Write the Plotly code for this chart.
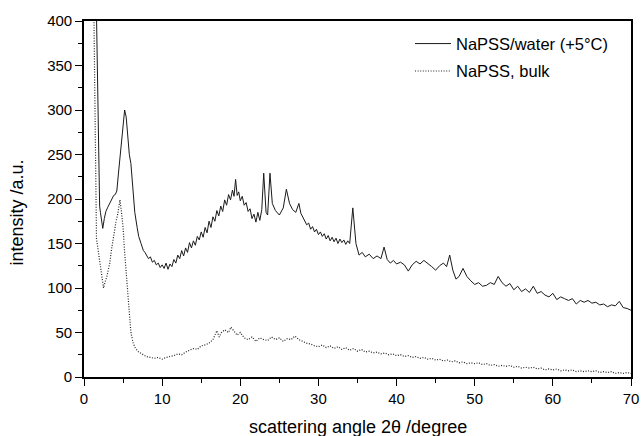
import plotly.graph_objects as go

# NaPSS/water (+5°C) — solid
water_x = [1.5, 1.6, 1.7, 1.8, 1.9, 2.0, 2.1, 2.2, 2.4, 2.6, 2.8, 3.0, 3.2, 3.4, 3.6, 3.8, 4.0, 4.2, 4.4, 4.6, 4.8,
           5.0, 5.2, 5.4, 5.6, 5.8, 6.0, 6.2, 6.5, 6.8, 7.0, 7.3, 7.6, 7.8,
           8.0, 8.25, 8.5, 8.75, 9.0, 9.25, 9.5, 9.75, 10.0, 10.25, 10.5, 10.75, 11.0, 11.25, 11.5, 11.75,
           12.0, 12.25, 12.5, 12.75, 13.0, 13.25, 13.5, 13.75, 14.0, 14.25, 14.5, 14.75, 15.0, 15.25, 15.5, 15.75,
           16.0, 16.25, 16.5, 16.75, 17.0, 17.25, 17.5, 17.75, 18.0, 18.25, 18.5, 18.75, 19.0, 19.2, 19.4, 19.6,
           19.8, 20.0, 20.25, 20.5, 20.75, 21.0, 21.25, 21.5, 21.75, 22.0, 22.25, 22.5, 22.75,
           23.0, 23.3, 23.5, 23.8, 24.1, 24.5, 25.0, 25.5, 25.9, 26.3, 26.7, 27.1, 27.5, 27.75,
           28.0, 28.25, 28.5, 28.75, 29.0, 29.25, 29.5, 29.75, 30.0, 30.25, 30.5, 30.75, 31.0, 31.25, 31.5, 31.75,
           32.0, 32.25, 32.5, 32.75, 33.0, 33.25, 33.5, 33.75, 34.0, 34.4, 34.8, 35.2, 35.6, 36.0, 36.5, 37.0, 37.5,
           38.0, 38.4, 38.8, 39.2, 39.6, 40.0, 40.5, 41.0, 41.5, 42.0,
           42.5, 43.0, 43.5, 44.0, 44.5, 45.0, 45.5, 46.0, 46.4, 46.8, 47.2, 47.6, 48.0, 48.5, 49.0, 49.5, 50.0,
           50.5, 51.0, 51.5, 52.0, 52.5, 53.0, 53.5, 54.0, 54.5, 55.0, 55.5, 56.0, 56.5, 57.0, 57.5, 58.0, 58.5,
           59.0, 59.5, 60.0, 60.5, 61.0, 61.5, 62.0, 62.5, 63.0, 63.5, 64.0, 64.5, 65.0, 65.5, 66.0, 66.5, 67.0,
           67.5, 68.0, 68.5, 69.0, 69.5, 70.0]
water_y = [460, 400, 330, 275, 225, 192, 185, 178, 167, 178, 186, 190, 194, 197, 200, 204, 205, 209, 228, 246, 262,
           283, 300, 292, 268, 250, 240, 215, 185, 168, 158, 150, 142, 140,
           137, 133, 135, 129, 131, 126, 128, 123, 126, 122, 128, 121, 127, 124, 132, 128,
           137, 133, 142, 136, 145, 140, 151, 145, 153, 148, 158, 154, 163, 157, 168, 162,
           175, 168, 180, 175, 187, 181, 192, 186, 199, 193, 205, 199, 210, 203, 222, 204,
           208, 198, 203, 193, 196, 186, 189, 178, 183, 174, 185, 176, 188,
           229, 185, 182, 229, 195, 187, 182, 190, 211, 195, 188, 185, 195, 184,
           180, 176, 171, 173, 166, 169, 163, 166, 160, 163, 158, 161, 155, 159, 153, 157,
           152, 156, 150, 155, 151, 154, 149, 153, 150, 190, 150, 137, 140, 135, 138, 133, 136,
           133, 146, 132, 128, 131, 127, 129, 126, 119, 126,
           130, 127, 131, 128, 124, 120, 125, 128, 124, 137, 120, 110, 113, 122, 113, 108, 104,
           106, 102, 103, 106, 104, 113, 106, 102, 105, 98, 102, 96, 99, 95, 102, 94, 96,
           92, 90, 94, 87, 90, 88, 86, 88, 82, 86, 84, 86, 83, 84, 81, 82, 79,
           81, 80, 85, 78, 77, 75]

# NaPSS, bulk — dotted
bulk_x = [1.2, 1.3, 1.4, 1.5, 1.6, 1.8, 2.0, 2.2, 2.4, 2.5, 2.7, 2.9, 3.1, 3.3, 3.5, 3.7, 3.9, 4.1, 4.3, 4.5, 4.6,
          4.8, 5.0, 5.2, 5.4, 5.6, 5.8, 6.0, 6.3, 6.6, 7.0, 7.5, 8.0, 8.5, 9.0, 9.5, 10.0, 10.5, 11.0, 11.5, 12.0,
          12.5, 13.0, 13.5, 14.0, 14.5, 15.0, 15.5, 16.0, 16.5, 17.0, 17.3, 17.6, 18.0, 18.5, 18.8, 19.2, 19.6,
          20.0, 20.5, 21.0, 21.5, 22.0, 22.5, 23.0, 23.5, 24.0, 24.5, 25.0, 25.5, 26.0, 26.5, 27.0, 27.5, 28.0,
          28.5, 29.0, 29.5, 30.0, 30.5, 31.0, 31.5, 32.0, 32.5, 33.0, 33.5, 34.0, 34.5, 35.0, 35.5, 36.0, 36.5,
          37.0, 37.5, 38.0, 38.5, 39.0, 39.5, 40.0, 40.5, 41.0, 41.5, 42.0, 42.5, 43.0, 43.5, 44.0, 44.5, 45.0,
          45.5, 46.0, 46.5, 47.0, 47.5, 48.0, 48.5, 49.0, 49.5, 50.0, 50.5, 51.0, 51.5, 52.0, 52.5, 53.0, 53.5,
          54.0, 54.5, 55.0, 55.5, 56.0, 56.5, 57.0, 57.5, 58.0, 58.5, 59.0, 59.5, 60.0, 60.5, 61.0, 61.5, 62.0,
          62.5, 63.0, 63.5, 64.0, 64.5, 65.0, 65.5, 66.0, 66.5, 67.0, 67.5, 68.0, 68.5, 69.0, 69.5, 70.0]
bulk_y = [460, 370, 250, 170, 155, 143, 132, 120, 108, 100, 107, 112, 120, 128, 142, 155, 168, 175, 182, 195, 199,
          185, 168, 140, 115, 90, 65, 50, 38, 32, 28, 25, 23, 22, 21, 22, 20, 22, 23, 24, 26,
          25, 28, 30, 32, 31, 35, 36, 38, 42, 52, 45, 50, 53, 50, 56, 52, 47,
          50, 44, 42, 45, 40, 44, 42, 41, 45, 42, 44, 40, 43, 42, 46, 42, 40,
          38, 37, 35, 34, 36, 33, 35, 32, 34, 31, 33, 30, 32, 29, 31, 28, 29,
          27, 28, 26, 27, 25, 26, 24, 25, 23, 24, 22, 23, 21, 22, 20, 21, 19,
          20, 18, 19, 17, 18, 16, 17, 15, 16, 15, 16, 14, 15, 13, 14, 12, 13,
          12, 13, 11, 12, 10, 11, 10, 11, 9, 10, 8, 9, 8, 9, 7, 8, 7,
          8, 6, 7, 6, 7, 6, 7, 5, 6, 5, 6, 4, 5, 4, 5, 4]

x_ticks = [0, 10, 20, 30, 40, 50, 60, 70]
y_ticks = [0, 50, 100, 150, 200, 250, 300, 350, 400]

FONT = "Liberation Sans, Arial, sans-serif"

fig = go.Figure()
fig.add_trace(go.Scatter(x=water_x, y=water_y, mode="lines", name="NaPSS/water (+5°C)",
                         legendgroup="a", line=dict(color="#1a1a1a", width=1)))
fig.add_trace(go.Scatter(x=bulk_x, y=bulk_y, mode="lines", name="NaPSS, bulk",
                         legendgroup="b", line=dict(color="#222222", width=1.2, dash="1px,1.6px")))

axis_common = dict(showline=True, linecolor="black", linewidth=1.6, mirror=True, showgrid=False,
                   zeroline=False, ticks="outside", ticklen=7, tickwidth=1.3, tickcolor="black",
                   automargin=False,
                   tickfont=dict(family=FONT, size=15, color="black"))

fig.update_xaxes(range=[0, 70], tickvals=x_ticks,
                 minor=dict(dtick=5, ticks="outside", ticklen=4, tickcolor="black", tickwidth=1.2),
                 **axis_common)
fig.update_yaxes(range=[0, 400], tickvals=y_ticks,
                 minor=dict(dtick=25, ticks="outside", ticklen=4, tickcolor="black", tickwidth=1.2),
                 **axis_common)

fig.update_layout(
    width=641, height=436,
    margin=dict(l=84, r=10, t=21, b=59),
    paper_bgcolor="white", plot_bgcolor="white",
    font=dict(family=FONT, size=15, color="black"),
    showlegend=True,
    legend=dict(x=0.596, y=0.985, xanchor="left", yanchor="top", bgcolor="rgba(0,0,0,0)",
                font=dict(family=FONT, size=16.5, color="black"), tracegroupgap=3, itemwidth=36),
    annotations=[
        dict(text="scattering angle 2θ /degree", xref="paper", yref="paper", x=0.5, y=-0.14,
             xanchor="center", yanchor="middle", showarrow=False, font=dict(family=FONT, size=18)),
        dict(text="intensity /a.u.", xref="paper", yref="paper", x=-0.122, y=0.463, textangle=-90,
             xanchor="center", yanchor="middle", showarrow=False, font=dict(family=FONT, size=18)),
    ],
)

fig.write_html("out.html", config={"displayModeBar": False},
               post_script="document.body.style.margin='0';document.body.style.overflow='hidden';")
